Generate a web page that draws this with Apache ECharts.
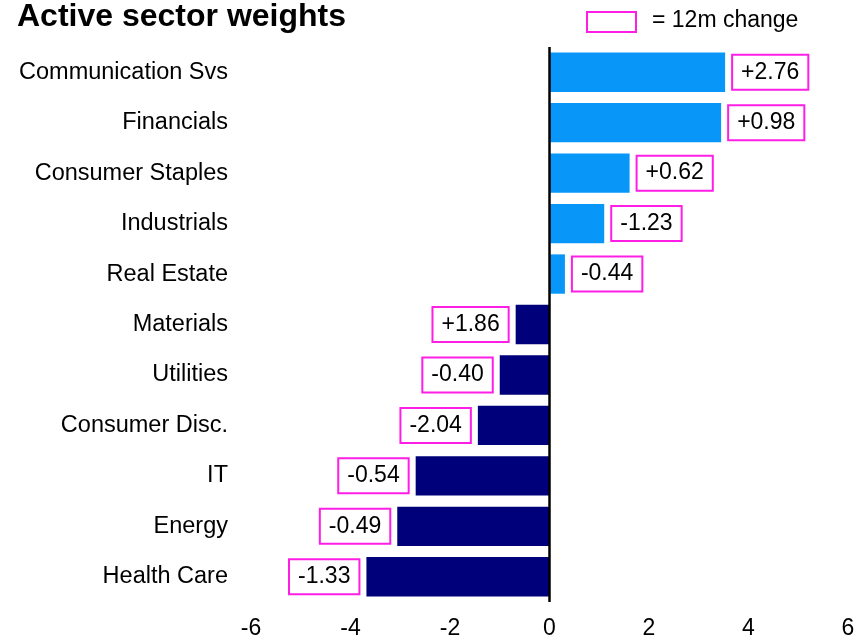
<!DOCTYPE html>
<html>
<head>
<meta charset="utf-8">
<script src="https://cdn.jsdelivr.net/npm/echarts@6/dist/echarts.min.js"></script>
<style>
  html, body { margin: 0; padding: 0; background: #fff; }
  #activeWeights { width: 857px; height: 638px; }
</style>
</head>
<body>
<div id="activeWeights"></div>
<script>
// 行业主动权重 + 12个月变化
var sectors = ['Communication Svs', 'Financials', 'Consumer Staples', 'Industrials', 'Real Estate',
    'Materials', 'Utilities', 'Consumer Disc.', 'IT', 'Energy', 'Health Care'];
var weights = [3.53, 3.45, 1.61, 1.10, 0.31, -0.68, -1.00, -1.44, -2.69, -3.06, -3.68];
var changes = ['+2.76', '+0.98', '+0.62', '-1.23', '-0.44', '+1.86', '-0.40', '-2.04', '-0.54', '-0.49', '-1.33'];
var xTicks = [-6, -4, -2, 0, 2, 4, 6];

var FONT = '"Liberation Sans", Arial, sans-serif';
var PINK = '#ff1ee6';

var barData = weights.map(function (v, i) {
    return {
        value: v,
        itemStyle: { color: v >= 0 ? '#0897f8' : '#00007a' },
        label: { position: v >= 0 ? 'right' : 'left' }
    };
});

var activeWeights = echarts.init(document.getElementById('activeWeights'));
var activeWeights_option = {
    animation: false,
    title: {
        text: 'Active sector weights',
        left: 12,
        top: -4,
        textStyle: { fontFamily: FONT, fontSize: 32, fontWeight: 'bold', color: '#000' }
    },
    graphic: [
        {
            type: 'rect',
            shape: { x: 587, y: 12, width: 49, height: 20 },
            style: { fill: '#fff', stroke: PINK, lineWidth: 2 }
        },
        {
            type: 'text',
            left: 652,
            top: 9,
            style: { text: '= 12m change', fontFamily: FONT, fontSize: 23, fill: '#000' }
        }
    ],
    grid: {
        left: 251,
        right: 9,
        top: 47,
        bottom: 36,
        containLabel: false,
        outerBoundsMode: 'none'
    },
    xAxis: {
        type: 'value',
        min: -6,
        max: 6,
        interval: 2,
        axisLine: { show: false },
        axisTick: { show: false },
        splitLine: { show: false },
        axisLabel: {
            margin: 15,
            fontFamily: FONT,
            fontSize: 23,
            color: '#000',
            formatter: function (v) { return xTicks.indexOf(v) >= 0 ? String(v) : ''; }
        }
    },
    yAxis: {
        type: 'category',
        inverse: true,
        data: sectors,
        axisLine: { show: false },
        axisTick: { show: false },
        axisLabel: {
            margin: 23,
            fontFamily: FONT,
            fontSize: 23.5,
            color: '#000'
        }
    },
    series: [
        {
            name: 'weights',
            type: 'bar',
            barCategoryGap: '22%',
            data: barData,
            label: {
                show: true,
                distance: 8,
                formatter: function (p) { return changes[p.dataIndex]; },
                fontFamily: FONT,
                fontSize: 23,
                color: '#000',
                backgroundColor: '#fff',
                borderColor: PINK,
                borderWidth: 2,
                padding: [6, 8, 4, 8]
            },
            markLine: {
                silent: true,
                symbol: 'none',
                label: { show: false },
                lineStyle: { color: '#000', width: 2.5, type: 'solid' },
                data: [{ xAxis: 0 }]
            }
        }
    ]
};
activeWeights.setOption(activeWeights_option);
</script>
</body>
</html>
